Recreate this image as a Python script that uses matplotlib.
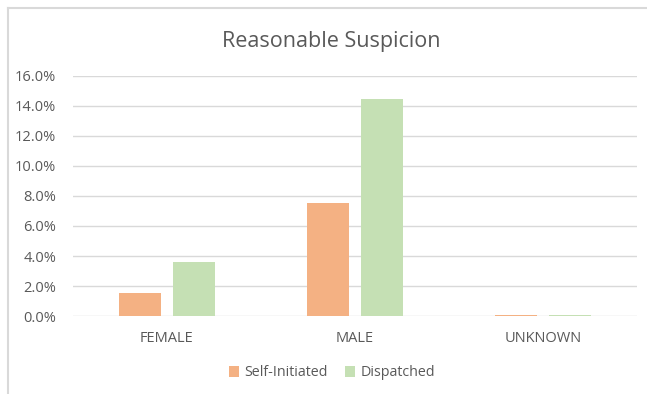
import matplotlib
matplotlib.use("Agg")
import matplotlib.pyplot as plt
from matplotlib.ticker import FuncFormatter, MultipleLocator
from matplotlib.lines import Line2D
import numpy as np

categories = ["FEMALE", "MALE", "UNKNOWN"]
series_names = ["Self-Initiated", "Dispatched"]
self_initiated = [1.53, 7.53, 0.07]
dispatched = [3.60, 14.47, 0.07]
title = "Reasonable Suspicion"

colors = ["#F4B183", "#C5E0B4"]
text_color = "#595959"
grid_color = "#D9D9D9"

plt.rcParams['font.family'] = ['Open Sans', 'DejaVu Sans']

W, H = 647, 394
fig = plt.figure(figsize=(W / 100, H / 100), dpi=100)

# figure frame (left and top light lines)
fig.add_artist(Line2D([7.5 / W, 7.5 / W], [0, 1 - 8 / H], transform=fig.transFigure, color=grid_color, lw=1.5))
fig.add_artist(Line2D([7.5 / W, 1], [1 - 8 / H, 1 - 8 / H], transform=fig.transFigure, color=grid_color, lw=1.5))

left, right = 73, 637
top, bottom = 76, 316
ax = fig.add_axes([left / W, 1 - bottom / H, (right - left) / W, (bottom - top) / H])

x = np.arange(len(categories))
bw = 0.225
off = 0.142
ax.bar(x - off, self_initiated, bw, color=colors[0], label=series_names[0], zorder=3)
ax.bar(x + off, dispatched, bw, color=colors[1], label=series_names[1], zorder=3)

ax.set_xlim(-0.5, len(categories) - 0.5)
ax.set_ylim(0, 16)
ax.yaxis.set_major_locator(MultipleLocator(2))
ax.yaxis.set_major_formatter(FuncFormatter(lambda v, p: f"{v:.1f}%"))
ax.grid(axis='y', color=grid_color, lw=1, zorder=0)
ax.set_axisbelow(True)
for s in ax.spines.values():
    s.set_visible(False)
ax.tick_params(axis='both', length=0, colors=text_color, labelsize=10.5)
ax.tick_params(axis='y', pad=12)
ax.tick_params(axis='x', pad=11)
ax.set_xticks(x)
ax.set_xticklabels(categories)

fig.text(331 / W, 1 - 42 / H, title, ha='center', va='center', fontsize=15.5, color=text_color)

fig.legend(loc='center', bbox_to_anchor=(332 / W, 1 - 373 / H), ncol=2, frameon=False,
           fontsize=10.3, labelcolor=text_color, handlelength=0.7, handleheight=0.7,
           handletextpad=0.4, columnspacing=1.2)

fig.savefig("out.png", dpi=100)
